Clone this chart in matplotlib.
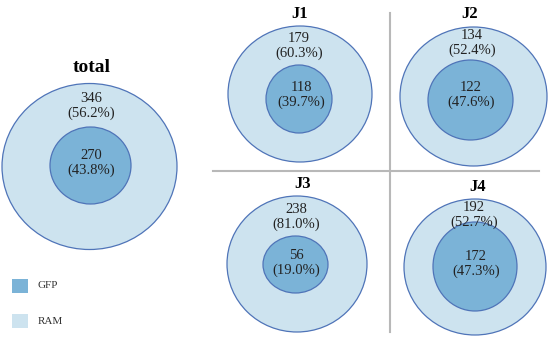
import matplotlib
matplotlib.use('Agg')
import matplotlib.pyplot as plt
from matplotlib.patches import Ellipse, Rectangle

# data
groups = ['total', 'J1', 'J2', 'J3', 'J4']
ram_counts = [346, 179, 134, 238, 192]
ram_pct = [56.2, 60.3, 52.4, 81.0, 52.7]
gfp_counts = [270, 118, 122, 56, 172]
gfp_pct = [43.8, 39.7, 47.6, 19.0, 47.3]
legend_labels = ['GFP', 'RAM']

# layout in pixel units (x, y from top-left)
outer = [(89.5, 166.5, 87.5, 83), (300, 94, 72, 68), (473.5, 96.5, 73.5, 69.5),
         (297, 264, 70, 68), (475, 267, 71, 68)]
inner = [(90.5, 165.5, 40.5, 38.5), (299, 99, 33, 34), (470.5, 100, 42.5, 40),
         (295.5, 264.5, 32.5, 28.5), (475, 266.5, 42, 44.5)]
title_pos = [(92, 68), (300, 14), (470, 14), (303, 184), (478, 187)]
ram_txt = [(91, 106), (299, 46), (472, 43), (296, 217), (474, 215)]
gfp_txt = [(91, 163), (301, 95), (471, 95), (296, 263), (476, 264)]

outer_col = '#cde3ef'
inner_col = '#7bb3d7'
edge_col = '#4f74b8'

plt.rcParams['font.family'] = ['Liberation Serif', 'DejaVu Serif']

fig = plt.figure(figsize = (5.5, 3.41), dpi = 100)
ax = fig.add_axes([0, 0, 1, 1])
ax.set_xlim(0, 550)
ax.set_ylim(341, 0)
ax.axis('off')

for i, g in enumerate(groups):
    ox, oy, orx, ory = outer[i]
    ax.add_patch(Ellipse((ox, oy), 2 * orx, 2 * ory, facecolor = outer_col, edgecolor = edge_col, lw = 0.9))
    ix, iy, irx, iry = inner[i]
    ax.add_patch(Ellipse((ix, iy), 2 * irx, 2 * iry, facecolor = inner_col, edgecolor = edge_col, lw = 0.9))
    fs = 14 if g == 'total' else 12
    ax.text(title_pos[i][0], title_pos[i][1], g, fontsize = fs, fontweight = 'bold', ha = 'center', va = 'center')
    ax.text(ram_txt[i][0], ram_txt[i][1], '%d\n(%.1f%%)' % (ram_counts[i], ram_pct[i]),
            fontsize = 10.5, ha = 'center', va = 'center', color = '#222222', linespacing = 1.1)
    ax.text(gfp_txt[i][0], gfp_txt[i][1], '%d\n(%.1f%%)' % (gfp_counts[i], gfp_pct[i]),
            fontsize = 10.5, ha = 'center', va = 'center', color = '#222222', linespacing = 1.1)

# divider lines
ax.plot([213, 539], [171, 171], color = '#b8b8b8', lw = 1.5)
ax.plot([390, 390], [13, 332], color = '#b8b8b8', lw = 1.5)

# legend
leg_cols = [inner_col, outer_col]
leg_y = [286, 321]
for lab, c, y in zip(legend_labels, leg_cols, leg_y):
    ax.add_patch(Rectangle((12, y - 7), 16, 14, facecolor = c, edgecolor = 'none'))
    ax.text(38, y, lab, fontsize = 8, ha = 'left', va = 'center', color = '#333333')

plt.savefig('out.png', dpi = 100)
